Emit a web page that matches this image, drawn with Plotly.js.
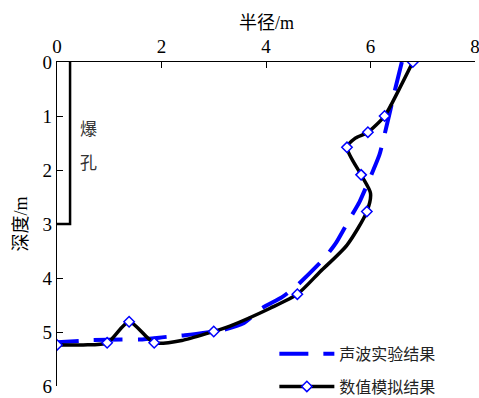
<!DOCTYPE html>
<html>
<head>
<meta charset="utf-8">
<script src="https://cdn.plot.ly/plotly-3.0.1.min.js"></script>
<style>html,body{margin:0;padding:0;background:#fff;}#chart{width:479px;height:398px;}</style>
</head>
<body>
<div id="chart"></div>
<script>
// Acoustic test result (dashed blue)
const acousticR = [6.60, 6.46, 6.38, 6.26, 6.17, 5.79, 5.61, 5.34, 5.11, 4.57, 4.30, 3.92, 3.57, 3.18, 2.45, 2.10, 1.59, 1.24, 0.70, 0.34, 0.00];
const acousticD = [0.00, 0.55, 0.89, 1.38, 1.72, 2.59, 2.89, 3.35, 3.64, 4.16, 4.36, 4.56, 4.84, 4.96, 5.06, 5.09, 5.14, 5.14, 5.15, 5.17, 5.19];

// Numerical simulation result: curve path and marked points
const simCurveR = [6.81, 6.54, 6.27, 5.95, 5.71, 5.55, 5.82, 6.00, 5.93, 5.55, 5.04, 4.60, 4.08, 3.31, 3.00, 2.42, 1.86, 1.38, 0.96, 0.50, 0.00];
const simCurveD = [0.00, 0.52, 1.00, 1.30, 1.41, 1.58, 2.09, 2.43, 2.77, 3.39, 3.88, 4.30, 4.56, 4.89, 4.99, 5.15, 5.20, 4.81, 5.20, 5.24, 5.24];
const simPointR = [6.81, 6.27, 5.95, 5.55, 5.82, 5.93, 4.60, 3.00, 1.86, 1.38, 0.96, 0.00];
const simPointD = [0.00, 1.00, 1.30, 1.58, 2.09, 2.77, 4.30, 4.99, 5.20, 4.81, 5.20, 5.24];

// Blast hole outline
const holeR = [0.25, 0.25, 0.00];
const holeD = [0.00, 3.00, 3.00];
const holeLabels = ['爆', '孔'];
const holeLabelR = [0.61, 0.61];
const holeLabelD = [1.22, 1.85];

const xTicks = [0, 2, 4, 6, 8];
const yTicks = [0, 1, 2, 3, 4, 5, 6];
const xTitle = '半径/m';
const yTitle = '深度/m';

const FONT = 'Liberation Serif';
const TITLEFONT = 'Liberation Serif, Noto Sans CJK SC';
const CJK = 'Noto Sans CJK SC';

const traces = [
  {x: holeR, y: holeD, mode: 'lines', line: {color: '#000', width: 2.5}, showlegend: false, hoverinfo: 'skip'},
  {x: acousticR, y: acousticD, mode: 'lines', name: '声波实验结果', legendgroup: 'a',
   line: {color: '#0000ff', width: 4, dash: '29px,15px', shape: 'spline', smoothing: 0.5}},
  {x: simCurveR, y: simCurveD, mode: 'lines', showlegend: false, legendgroup: 'b',
   line: {color: '#000', width: 3.5, shape: 'spline', smoothing: 0.7}},
  {x: simPointR, y: simPointD, mode: 'markers', showlegend: false, legendgroup: 'b',
   marker: {symbol: 'diamond', size: 8, color: '#fff', line: {color: '#0000ff', width: 1.5}}},
  {x: [null], y: [null], mode: 'lines+markers', name: '数值模拟结果', legendgroup: 'b',
   line: {color: '#000', width: 3.5},
   marker: {symbol: 'diamond', size: 8, color: '#fff', line: {color: '#0000ff', width: 1.5}}}
];

const annotations = holeLabels.map((t, i) => ({
  x: holeLabelR[i], y: holeLabelD[i], xref: 'x', yref: 'y', text: t, showarrow: false,
  font: {family: CJK, size: 17, color: '#333'}
}));
// x-axis title placed just above the top tick labels
annotations.push({
  x: 0.5, y: 1.12, xref: 'paper', yref: 'paper', xanchor: 'center', yanchor: 'middle',
  text: xTitle, showarrow: false, font: {family: TITLEFONT, size: 18, color: '#000'}
});

const layout = {
  width: 479, height: 398,
  margin: {l: 57, r: 4, t: 62, b: 12, autoexpand: false},
  paper_bgcolor: '#fff', plot_bgcolor: '#fff',
  font: {family: TITLEFONT, size: 18, color: '#000'},
  xaxis: {
    side: 'top', range: [0, 8], tickvals: xTicks, ticktext: xTicks.map(String),
    showgrid: false, zeroline: false, showline: true, linecolor: '#000', linewidth: 1.2,
    ticks: 'inside', ticklen: 6, tickcolor: '#000', tickfont: {family: FONT, size: 19},
    ticklabeloverflow: 'allow', automargin: false
  },
  yaxis: {
    range: [6, 0], tickvals: yTicks, ticktext: yTicks.map(String),
    showgrid: false, zeroline: false, showline: true, linecolor: '#000', linewidth: 1.2,
    ticks: 'inside', ticklen: 6, tickcolor: '#000', tickfont: {family: FONT, size: 19},
    ticklabeloverflow: 'allow', automargin: false,
    title: {text: yTitle, font: {family: TITLEFONT, size: 18}, standoff: 10}
  },
  legend: {
    x: 0.52, y: 0.152, xanchor: 'left', yanchor: 'top',
    bgcolor: 'rgba(0,0,0,0)', font: {family: CJK, size: 16, color: '#222'},
    itemwidth: 55, traceorder: 'grouped', tracegroupgap: 9
  },
  annotations: annotations,
  showlegend: true
};

Plotly.newPlot('chart', traces, layout, {staticPlot: true, displayModeBar: false});
</script>
</body>
</html>
